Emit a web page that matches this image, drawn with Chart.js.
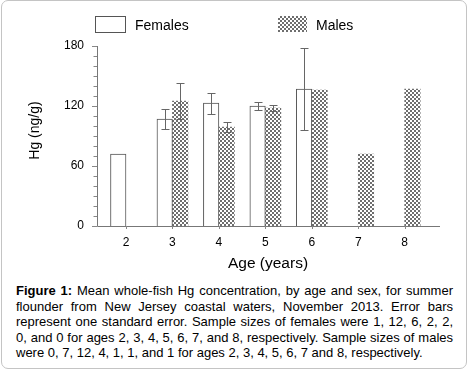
<!DOCTYPE html>
<html>
<head>
<meta charset="utf-8">
<script src="https://cdn.jsdelivr.net/npm/chart.js@4/dist/chart.umd.min.js"></script>
<style>
  html, body { margin: 0; padding: 0; background: #fff; }
  #frame { position: absolute; left: 1px; top: 0px; width: 464px; height: 367px;
           border: 1px solid #c4c4c4; border-radius: 7px; }
  #wrap { position: absolute; left: 0; top: 0; width: 470px; height: 280px; }
  #caption { position: absolute; left: 16px; top: 283px; width: 437px;
             font-family: "Liberation Sans", Arial, sans-serif; font-size: 13px;
             line-height: 15.5px; text-align: justify; color: #000; }
</style>
</head>
<body>
<div id="frame"></div>
<div id="wrap"><canvas id="c" width="470" height="280"></canvas></div>
<div id="caption"><b>Figure 1:</b> Mean whole-fish Hg concentration, by age and sex, for summer flounder from New Jersey coastal waters, November 2013. Error bars represent one standard error. Sample sizes of females were 1, 12, 6, 2, 2, 0, and 0 for ages 2, 3, 4, 5, 6, 7, and 8, respectively. Sample sizes of males were 0, 7, 12, 4, 1, 1, and 1 for ages 2, 3, 4, 5, 6, 7 and 8, respectively.</div>
<script>
const ages = [2, 3, 4, 5, 6, 7, 8];
const femaleMean = [72, 107, 123, 120, 137, null, null];
const femaleSE   = [null, 10, 10.5, 4.5, 41, null, null];
const maleMean   = [null, 125, 99, 118, 136, 72, 137];
const maleSE     = [null, 18, 5, 3.3, null, null, null];
const yTickLabels = [0, 60, 120, 180];
const seriesNames = ['Females', 'Males'];

const FONT = '"Liberation Sans", Arial, sans-serif';

// checker pattern for males
const pc = document.createElement('canvas');
pc.width = 4; pc.height = 4;
const pctx = pc.getContext('2d');
pctx.fillStyle = '#ffffff'; pctx.fillRect(0, 0, 4, 4);
pctx.fillStyle = '#6e6e6e'; pctx.fillRect(0, 0, 2, 2); pctx.fillRect(2, 2, 2, 2);
const ctx0 = document.getElementById('c').getContext('2d');
const checker = ctx0.createPattern(pc, 'repeat');

const toPts = (arr) => ages.map((a, i) => ({ x: a, y: arr[i] }));

const decor = {
  id: 'decor',
  afterDatasetsDraw(chart) {
    const ctx = chart.ctx;
    const xs = chart.scales.x, ys = chart.scales.y;
    const ca = chart.chartArea;
    ctx.save();
    // error bars
    const sets = [[femaleMean, femaleSE, 0], [maleMean, maleSE, 1]];
    ctx.strokeStyle = '#666';
    ctx.lineWidth = 1;
    sets.forEach(([m, se, di]) => {
      const meta = chart.getDatasetMeta(di);
      m.forEach((v, i) => {
        if (v == null || se[i] == null) return;
        const el = meta.data[i];
        const x = Math.round(el.x) + 0.5;
        const yt = Math.round(ys.getPixelForValue(v + se[i])) + 0.5;
        const yb = Math.round(ys.getPixelForValue(v - se[i])) + 0.5;
        ctx.beginPath();
        ctx.moveTo(x, yt); ctx.lineTo(x, yb);
        ctx.moveTo(x - 4, yt); ctx.lineTo(x + 4, yt);
        ctx.moveTo(x - 4, yb); ctx.lineTo(x + 4, yb);
        ctx.stroke();
      });
    });
    // axes
    ctx.strokeStyle = '#777';
    ctx.beginPath();
    ctx.moveTo(ca.left + 0.5, ys.getPixelForValue(180));
    ctx.lineTo(ca.left + 0.5, ca.bottom + 0.5);
    ctx.lineTo(ca.right, ca.bottom + 0.5);
    ctx.stroke();
    // y ticks
    ctx.strokeStyle = '#888';
    for (let v = 0; v <= 180; v += 10) {
      const y = Math.round(ys.getPixelForValue(v)) + 0.5;
      const major = v % 60 === 0;
      ctx.beginPath();
      ctx.moveTo(ca.left - (major ? 5 : 3.5), y);
      ctx.lineTo(ca.left, y);
      ctx.stroke();
    }
    // x ticks
    ages.forEach(a => {
      const x = Math.round(xs.getPixelForValue(a)) + 0.5;
      ctx.beginPath();
      ctx.moveTo(x, ca.bottom); ctx.lineTo(x, ca.bottom + 3);
      ctx.stroke();
    });
    // tick labels
    ctx.fillStyle = '#000';
    ctx.font = '12px ' + FONT;
    ctx.textAlign = 'right'; ctx.textBaseline = 'middle';
    yTickLabels.forEach(v => ctx.fillText(String(v), 84, ys.getPixelForValue(v)));
    ctx.textAlign = 'center';
    ages.forEach(a => ctx.fillText(String(a), xs.getPixelForValue(a), 242.5));
    // axis titles
    ctx.font = '15.5px ' + FONT;
    ctx.fillText('Age (years)', 268, 264);
    ctx.save();
    ctx.translate(35, 130.5);
    ctx.rotate(-Math.PI / 2);
    ctx.font = '14px ' + FONT;
    ctx.fillText('Hg (ng/g)', 0, 0);
    ctx.restore();
    // legend
    ctx.fillStyle = '#fff';
    ctx.fillRect(95.5, 16.5, 30, 16);
    ctx.strokeStyle = '#555';
    ctx.strokeRect(95.5, 16.5, 30, 16);
    ctx.fillStyle = checker;
    ctx.fillRect(278, 16, 29, 16);
    ctx.fillStyle = '#000';
    ctx.font = '14px ' + FONT;
    ctx.textAlign = 'left';
    ctx.fillText(seriesNames[0], 135, 26.5);
    ctx.fillText(seriesNames[1], 316, 26.5);
    ctx.restore();
  }
};

new Chart(ctx0, {
  type: 'bar',
  data: {
    datasets: [
      { label: seriesNames[0], data: toPts(femaleMean), backgroundColor: '#ffffff',
        borderColor: '#555', borderWidth: 1, barThickness: 15.5 },
      { label: seriesNames[1], data: toPts(maleMean), backgroundColor: checker,
        borderColor: 'rgba(0,0,0,0)', borderWidth: 0, barThickness: 15.5 }
    ]
  },
  options: {
    responsive: false,
    animation: false,
    events: [],
    layout: { padding: { left: 0, right: 30, top: 46, bottom: 0 } },
    plugins: { legend: { display: false }, tooltip: { enabled: false } },
    scales: {
      x: {
        type: 'linear', min: 1.3757, max: 8.76, offset: false,
        grid: { display: false, drawTicks: false, tickLength: 0, offset: false },
        border: { display: false },
        ticks: { display: false },
        afterFit(s) { s.height = 54; }
      },
      y: {
        min: 0, max: 180,
        grid: { display: false, drawTicks: false, tickLength: 0 },
        border: { display: false },
        ticks: { display: false },
        afterFit(s) { s.width = 97; }
      }
    }
  },
  plugins: [decor]
});
</script>
</body>
</html>
